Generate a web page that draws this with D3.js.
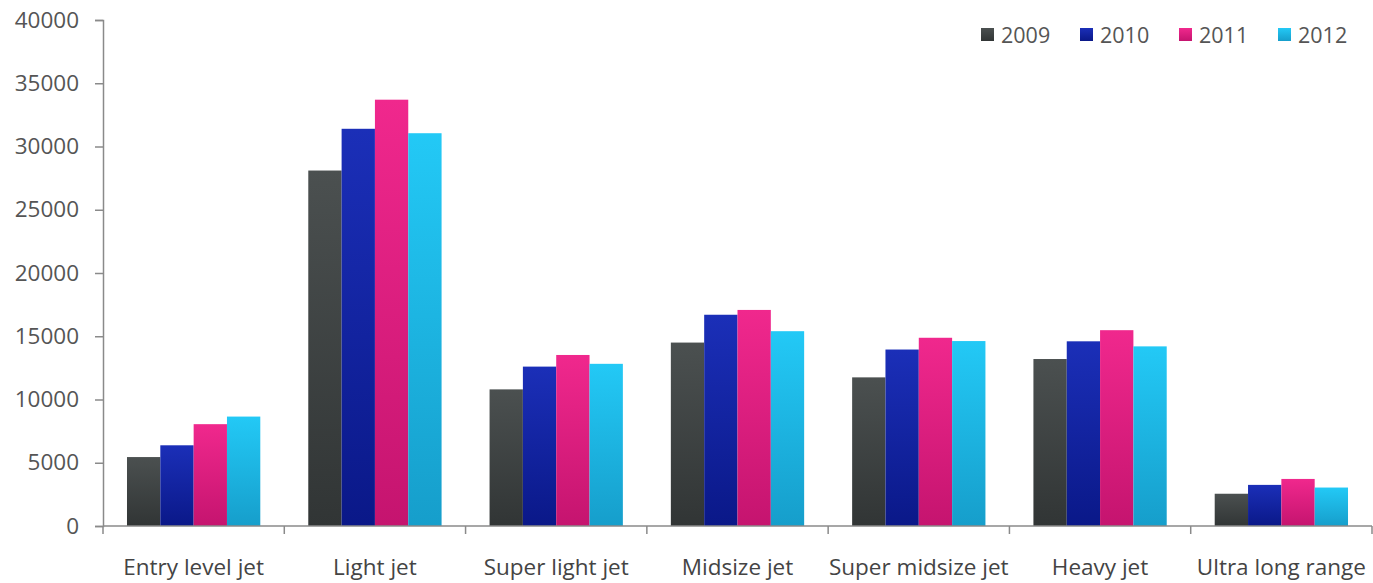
<!DOCTYPE html>
<html>
<head>
<meta charset="utf-8">
<script src="https://cdn.jsdelivr.net/npm/d3@7"></script>
<style>
  html, body { margin: 0; padding: 0; background: #fff; }
  svg { display: block; }
  text { font-family: "Open Sans", Lato, sans-serif; }
</style>
</head>
<body>
<svg id="chart" width="1373" height="583"></svg>
<script>
// Business jet categories and yearly values
const categories = ["Entry level jet", "Light jet", "Super light jet", "Midsize jet",
                    "Super midsize jet", "Heavy jet", "Ultra long range"];
const years = ["2009", "2010", "2011", "2012"];
const values2009 = [5450, 28100, 10800, 14500, 11750, 13200, 2550];
const values2010 = [6380, 31400, 12600, 16700, 13950, 14600, 3250];
const values2011 = [8050, 33700, 13520, 17080, 14880, 15480, 3720];
const values2012 = [8650, 31050, 12820, 15400, 14620, 14200, 3040];
const yTicks = [0, 5000, 10000, 15000, 20000, 25000, 30000, 35000, 40000];

const seriesValues = [values2009, values2010, values2011, values2012];
const topColors = ["#4b5050", "#1b2fb8", "#f0288d", "#23c9f6"];
const bottomColors = ["#313535", "#0a1888", "#c5146f", "#169ecb"];

const svg = d3.select("#chart");
const margin = { left: 103, right: 1, top: 20 };
const W = 1373;
const baseY = 526;

const x0 = d3.scaleBand().domain(categories).range([margin.left, W - margin.right]).padding(0);
const x1 = d3.scaleBand().domain(years)
  .range([0, x0.bandwidth()]).paddingInner(0).paddingOuter(0.72);
const y = d3.scaleLinear().domain([0, 40000]).range([baseY, margin.top]);

// vertical gradients per series
const defs = svg.append("defs");
years.forEach((yr, i) => {
  const g = defs.append("linearGradient").attr("id", "grad" + yr)
    .attr("x1", 0).attr("y1", 0).attr("x2", 0).attr("y2", 1);
  g.append("stop").attr("offset", "0%").attr("stop-color", topColors[i]);
  g.append("stop").attr("offset", "100%").attr("stop-color", bottomColors[i]);
});

// bars
const groups = svg.append("g").selectAll("g").data(categories).join("g")
  .attr("transform", d => `translate(${x0(d)},0)`);
groups.selectAll("rect")
  .data((d, ci) => years.map((yr, si) => ({ yr, v: seriesValues[si][ci] })))
  .join("rect")
  .attr("x", d => x1(d.yr))
  .attr("width", x1.bandwidth())
  .attr("y", d => y(d.v))
  .attr("height", d => baseY - y(d.v))
  .attr("fill", d => `url(#grad${d.yr})`);

// y axis
const yAxis = d3.axisLeft(y).tickValues(yTicks).tickSize(8).tickPadding(16).tickFormat(d3.format("d"));
const ya = svg.append("g").attr("transform", `translate(${margin.left},0)`).call(yAxis);
ya.select(".domain").attr("stroke", "#8a8a8a").attr("stroke-width", 1.5);
ya.selectAll(".tick line").attr("stroke", "#8a8a8a").attr("stroke-width", 1.5);
ya.selectAll(".tick text").attr("fill", "#555").style("font-size", "22.5px")
  .style("font-family", "'Open Sans', sans-serif");

// x axis with boundary ticks between categories
const xa = svg.append("g").attr("transform", `translate(0,${baseY})`);
xa.append("line").attr("x1", margin.left).attr("x2", W - margin.right)
  .attr("stroke", "#8a8a8a").attr("stroke-width", 1.5);
const bounds = categories.map(c => x0(c)).concat([x0(categories[categories.length - 1]) + x0.bandwidth()]);
xa.selectAll("line.bt").data(bounds).join("line").attr("class", "bt")
  .attr("x1", d => d).attr("x2", d => d).attr("y1", 0).attr("y2", 8)
  .attr("stroke", "#8a8a8a").attr("stroke-width", 1.5);
xa.selectAll("text").data(categories).join("text")
  .attr("x", d => x0(d) + x0.bandwidth() / 2)
  .attr("y", 49)
  .attr("text-anchor", "middle")
  .attr("fill", "#444")
  .style("font-size", "22.5px")
  .text(d => d);

// legend
const legendX = [981, 1080, 1179, 1278];
const lg = svg.append("g");
years.forEach((yr, i) => {
  lg.append("rect").attr("x", legendX[i]).attr("y", 28).attr("width", 13).attr("height", 13)
    .attr("fill", `url(#grad${yr})`);
  lg.append("text").attr("x", legendX[i] + 20).attr("y", 42.5)
    .attr("fill", "#555").style("font-size", "21.5px").text(yr);
});
</script>
</body>
</html>
